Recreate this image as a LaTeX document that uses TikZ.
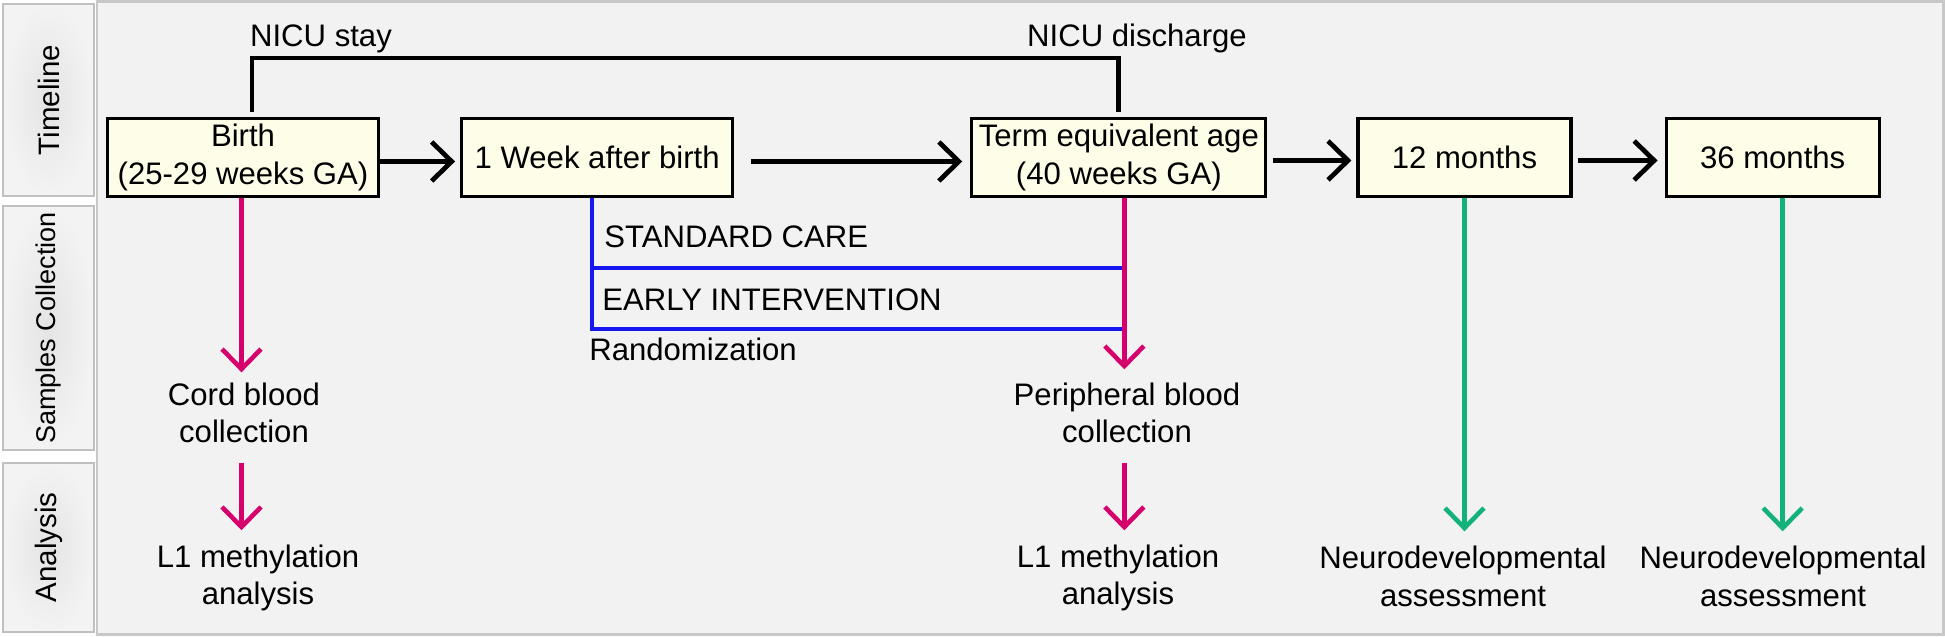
\documentclass[tikz,border=0pt]{standalone}
\usepackage{fontspec}
\setmainfont{Liberation Sans}
\usetikzlibrary{positioning,calc,arrows.meta}

\definecolor{boxFill}{RGB}{253,253,232}
\definecolor{panelFill}{RGB}{242,242,242}
\definecolor{panelDraw}{RGB}{200,200,200}
\definecolor{laneDraw}{RGB}{192,192,192}
\definecolor{laneMid}{RGB}{228,228,228}
\definecolor{laneEdge}{RGB}{243,243,243}
\definecolor{sampleCol}{RGB}{214,0,108}
\definecolor{assessCol}{RGB}{18,178,122}
\definecolor{armCol}{RGB}{22,22,240}

\newcommand{\diagfont}{\fontsize{17.7pt}{21.5pt}\selectfont}

\tikzset{
    block/.style = {draw, rectangle, fill=boxFill, line width=1.8pt,
        minimum height=1.56cm, inner sep=0pt, align=center, font=\diagfont},
    txt/.style = {inner sep=0pt, align=center, font=\diagfont},
    lane/.style = {draw=laneDraw, line width=1.2pt, rectangle, rotate=90,
        inner color=laneMid, outer color=laneEdge, minimum height=1.82cm,
        font=\fontsize{16.8pt}{20pt}\selectfont},
    tline/.style = {line width=2.7pt},
    sample/.style = {draw=sampleCol, line width=2.6pt},
    assess/.style = {draw=assessCol, line width=2.6pt},
    arm/.style = {draw=armCol, line width=2.6pt},
}

\begin{document}
\begin{tikzpicture}[>={Straight Barb[length=0.4cm,width=0.78cm]}, node distance=1.6cm]
	\useasboundingbox (0,0) rectangle (38.9,12.74);
	
	% panel and lanes
	\draw [draw=panelDraw, fill=panelFill, line width=1.7pt] (1.94,0.04) rectangle (38.86,12.71);
	\node [lane, minimum width=3.84cm] (laneTime) at (0.97,10.74) {Timeline};
	\node [lane, minimum width=4.80cm, font=\fontsize{15.4pt}{18pt}\selectfont] (laneSample) at (0.97,6.18) {Samples Collection};
	\node [lane, minimum width=3.38cm] (laneAnalysis) at (0.97,1.79) {Analysis};
	
	% timeline
	\node [block, minimum width=5.42cm] (birth) at (4.86,9.59) {Birth\\(25-29 weeks GA)};
	\node [block, minimum width=5.42cm, right=1.6cm of birth] (week) {1 Week after birth};
	\node [block, minimum width=5.88cm, right=4.72cm of week] (term) {Term equivalent age\\(40 weeks GA)};
	\node [block, minimum width=4.26cm, right=1.78cm of term] (m12) {12 months};
	\node [block, minimum width=4.26cm, right=1.84cm of m12] (m36) {36 months};
	
	% NICU stay
	\node [txt, anchor=base] (stay) at (6.42,11.80) {NICU stay};
	\node [txt, anchor=base] (discharge) at (22.74,11.80) {NICU discharge};
	\draw [tline] ([xshift=0.18cm,yshift=0.1cm]birth.north) -- ++(0,1.08) -| ([yshift=0.1cm]term.north);
	
	% timeline arrows
	\draw [tline, ->, shorten >=0.1cm] ([yshift=-0.08cm]birth.east) -- ([yshift=-0.08cm]week.west);
	\draw [tline, ->, shorten <=0.34cm, shorten >=0.16cm] ([yshift=-0.08cm]week.east) -- ([yshift=-0.08cm]term.west);
	\draw [tline, ->, shorten <=0.12cm, shorten >=0.1cm] ([yshift=-0.06cm]term.east) -- ([yshift=-0.06cm]m12.west);
	\draw [tline, ->, shorten <=0.1cm, shorten >=0.14cm] ([yshift=-0.06cm]m12.east) -- ([yshift=-0.06cm]m36.west);
	
	% randomization
	\coordinate (birthOut) at ([xshift=-0.03cm]birth.south);
	\coordinate (termOut) at ([xshift=0.11cm]term.south);
	\coordinate (m36Out) at ([xshift=0.2cm]m36.south);
	\coordinate (armTop) at ([xshift=-0.1cm]week.south);
	\coordinate (armStd) at ($(armTop)+(0,-1.4)$);
	\coordinate (armEarly) at ($(armTop)+(0,-2.62)$);
	\draw [arm] (armTop) -- (armEarly) -- (armEarly -| termOut);
	\draw [arm] (armStd) -- (armStd -| termOut);
	\node [txt, anchor=base west] (std) at (12.08,7.78) {STANDARD CARE};
	\node [txt, anchor=base west] (early) at (12.04,6.52) {EARLY INTERVENTION};
	\node [txt, anchor=base west] (rand) at (11.78,5.52) {Randomization};
	
	% samples and analysis
	\node [txt] (cord) at (4.88,4.48) {Cord blood\\collection};
	\node [txt] (peri) at (22.54,4.48) {Peripheral blood\\collection};
	\node [txt] (l1Birth) at (5.16,1.18) {L1 methylation\\analysis};
	\node [txt] (l1Term) at (22.36,1.18) {L1 methylation\\analysis};
	\node [txt] (neuro12) at (29.26,1.22) {Neurodevelopmental\\assessment};
	\node [txt] (neuro36) at (35.66,1.22) {Neurodevelopmental\\assessment};
	
	\draw [sample, ->, shorten >=0.2cm] (birthOut) -- (birthOut |- cord.north);
	\draw [sample, ->, shorten <=0.38cm, shorten >=0.28cm] (birthOut |- cord.south) -- (birthOut |- l1Birth.north);
	\draw [sample, ->, shorten >=0.26cm] (termOut) -- (termOut |- peri.north);
	\draw [sample, ->, shorten <=0.38cm, shorten >=0.28cm] (termOut |- peri.south) -- (termOut |- l1Term.north);
	\draw [assess, ->, shorten >=0.28cm] (m12.south) -- (m12.south |- neuro12.north);
	\draw [assess, ->, shorten >=0.28cm] (m36Out) -- (m36Out |- neuro36.north);
\end{tikzpicture}
\end{document}
